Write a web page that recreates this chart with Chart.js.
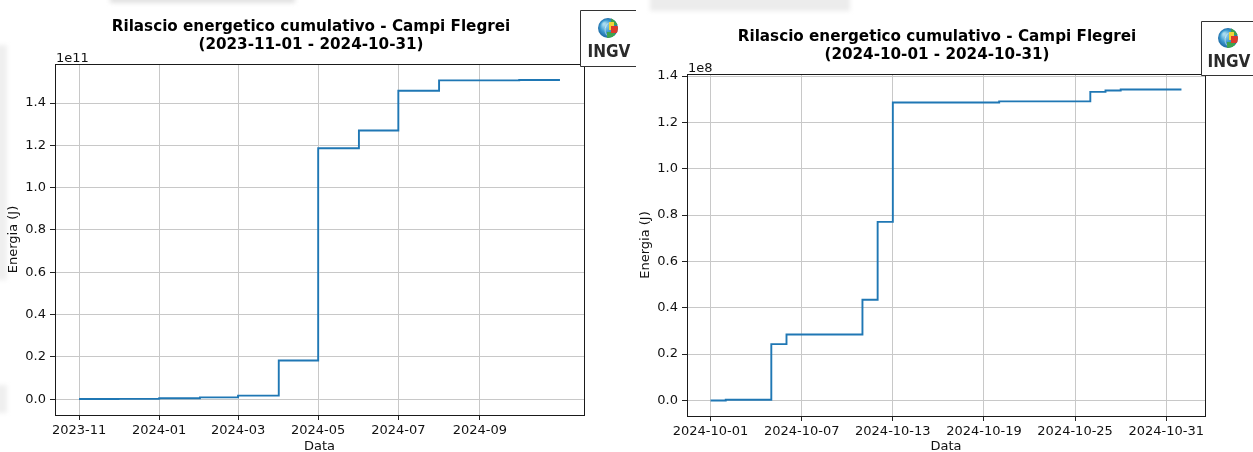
<!DOCTYPE html>
<html>
<head>
<meta charset="utf-8">
<script src="https://cdn.jsdelivr.net/npm/chart.js@4.4.0/dist/chart.umd.min.js"></script>
<style>
  html, body { margin: 0; padding: 0; background: #fff; }
  body { width: 1253px; height: 452px; position: relative; overflow: hidden; }
  canvas { position: absolute; top: 0; }
  #yearChart { left: 0; }
  #monthChart { left: 620px; }
  .smudge { position: absolute; background: #e2e2e2; filter: blur(2px); }
</style>
</head>
<body>
<div class="smudge" style="left:110px;top:-4px;width:185px;height:7px"></div>
<div class="smudge" style="left:650px;top:-4px;width:200px;height:15px;background:#ececec"></div>
<div class="smudge" style="left:-4px;top:45px;width:11px;height:235px;background:#efefef"></div>
<div class="smudge" style="left:-4px;top:385px;width:11px;height:28px;background:#efefef"></div>
<canvas id="yearChart" width="640" height="452"></canvas>
<canvas id="monthChart" width="633" height="452"></canvas>
<script>
  // Campi Flegrei - energia cumulativa
  const yearDates = ['2023-11-01', '2023-12-01', '2024-01-01', '2024-02-01', '2024-03-01', '2024-04-01',
    '2024-05-01', '2024-06-01', '2024-07-01', '2024-08-01', '2024-09-01', '2024-10-01', '2024-10-31T23:59:59Z'];
  const yearEnergy = [0.001e11, 0.002e11, 0.005e11, 0.009e11, 0.017e11, 0.183e11,
    1.186e11, 1.270e11, 1.458e11, 1.507e11, 1.507e11, 1.509e11, 1.509e11];
  const yearXTicks = ['2023-11', '2024-01', '2024-03', '2024-05', '2024-07', '2024-09'];
  const yearYTicks = ['0.0', '0.2', '0.4', '0.6', '0.8', '1.0', '1.2', '1.4'];

  const monthDates = ['2024-10-01', '2024-10-02', '2024-10-05', '2024-10-06', '2024-10-11', '2024-10-12',
    '2024-10-13', '2024-10-20', '2024-10-26', '2024-10-27', '2024-10-28', '2024-10-31T23:59:59Z'];
  const monthEnergy = [0, 0.003e8, 0.243e8, 0.285e8, 0.435e8, 0.771e8,
    1.286e8, 1.291e8, 1.332e8, 1.338e8, 1.342e8, 1.342e8];
  const monthXTicks = ['2024-10-01', '2024-10-07', '2024-10-13', '2024-10-19', '2024-10-25', '2024-10-31'];
  const monthYTicks = ['0.0', '0.2', '0.4', '0.6', '0.8', '1.0', '1.2', '1.4'];

  const FONT = 'DejaVu Sans';

  function drawLogo(ctx, L) {
    ctx.fillStyle = '#fff';
    ctx.fillRect(L.left, L.top, L.right - L.left, L.bottom - L.top);
    ctx.strokeStyle = '#333';
    ctx.lineWidth = 1;
    ctx.beginPath();
    ctx.moveTo(L.right, L.top + 0.5);
    ctx.lineTo(L.left + 0.5, L.top + 0.5);
    ctx.lineTo(L.left + 0.5, L.bottom + 0.5);
    ctx.lineTo(L.right, L.bottom + 0.5);
    ctx.stroke();

    // globo
    const cx = L.gx, cy = L.gy, r = 10;
    const g = ctx.createRadialGradient(cx - 4, cy - 4, 1, cx, cy, r);
    g.addColorStop(0, '#a8dcef');
    g.addColorStop(0.55, '#3c9ad0');
    g.addColorStop(1, '#1d6aa5');
    ctx.fillStyle = g;
    ctx.beginPath();
    ctx.arc(cx, cy, r, 0, Math.PI * 2);
    ctx.fill();
    ctx.save();
    ctx.beginPath();
    ctx.arc(cx, cy, r, 0, Math.PI * 2);
    ctx.clip();
    ctx.fillStyle = '#3fa34d';
    ctx.fillRect(cx + 3, cy - 10, 8, 7);
    ctx.fillRect(cx - 1, cy + 4, 8, 7);
    ctx.fillStyle = '#f1d33a';
    ctx.fillRect(cx + 1, cy - 6, 5, 8);
    ctx.fillStyle = '#dd3a2c';
    ctx.fillRect(cx + 3, cy - 2, 8, 7);
    ctx.strokeStyle = 'rgba(255,255,255,0.5)';
    ctx.beginPath();
    ctx.arc(cx + 6, cy + 2, 9, Math.PI * 0.8, Math.PI * 1.3);
    ctx.stroke();
    ctx.restore();

    ctx.fillStyle = '#2b2b2b';
    ctx.font = 'bold 17px "Liberation Sans Narrow", "DejaVu Sans Condensed", sans-serif';
    ctx.textAlign = 'center';
    ctx.textBaseline = 'alphabetic';
    ctx.fillText('INGV', L.tx, L.ty);
  }

  const decor = {
    id: 'decor',
    afterDraw(chart, args, opts) {
      const ctx = chart.ctx, a = chart.chartArea;
      ctx.save();
      ctx.strokeStyle = '#1a1a1a';
      ctx.lineWidth = 1;
      ctx.strokeRect(Math.round(a.left) + 0.5, Math.round(a.top) + 0.5,
        Math.round(a.right - a.left), Math.round(a.bottom - a.top));

      ctx.fillStyle = '#000';
      ctx.font = 'bold 15.2px "' + FONT + '"';
      ctx.textAlign = 'center';
      ctx.textBaseline = 'alphabetic';
      opts.title.forEach((t, i) => ctx.fillText(t, opts.titleX, opts.titleY + i * 17.5));

      ctx.font = '13px "' + FONT + '"';
      ctx.fillStyle = '#111';
      ctx.textAlign = 'left';
      ctx.fillText(opts.offsetText, a.left + 1, a.top - 2);

      drawLogo(ctx, opts.logo);
      ctx.restore();
    }
  };

  function buildChart(id, o) {
    const xs = o.dates.map(d => Date.parse(d));
    const pts = xs.map((x, i) => ({ x: x, y: o.values[i] }));
    const x0 = Math.min(...xs), x1 = Math.max(...xs), xm = (x1 - x0) * 0.05;
    const y0 = Math.min(...o.values), y1 = Math.max(...o.values), ym = (y1 - y0) * 0.05;
    const xTickVals = o.xTicks.map(t => Date.parse(t.length === 7 ? t + '-01' : t));
    const yTickVals = o.yTicks.map(t => parseFloat(t) * o.scale);

    const tickFont = { family: FONT, size: 13 };
    return new Chart(document.getElementById(id), {
      type: 'line',
      data: {
        datasets: [{
          data: pts,
          borderColor: '#1f77b4',
          borderWidth: 1.9,
          pointRadius: 0,
          stepped: 'before',
          fill: false
        }]
      },
      options: {
        responsive: false,
        animation: false,
        devicePixelRatio: 1,
        layout: { padding: { left: 0, top: o.top, right: o.right, bottom: 0 } },
        plugins: {
          legend: { display: false },
          tooltip: { enabled: false },
          decor: o.decor
        },
        scales: {
          x: {
            type: 'linear',
            min: x0 - xm,
            max: x1 + xm,
            afterBuildTicks: s => { s.ticks = xTickVals.map(v => ({ value: v })); },
            afterFit: s => { s.height = o.xHeight; },
            ticks: {
              autoSkip: false, maxRotation: 0, color: '#111', font: tickFont, padding: 3,
              callback: (v, i) => o.xTicks[i]
            },
            grid: { color: '#c8c8c8', lineWidth: 1, tickColor: '#222', tickLength: 5 },
            border: { display: false },
            title: { display: true, text: 'Data', color: '#111', font: tickFont, padding: { top: 0, bottom: -2 } }
          },
          y: {
            type: 'linear',
            min: y0 - ym,
            max: y1 + ym,
            afterBuildTicks: s => { s.ticks = yTickVals.map(v => ({ value: v })); },
            afterFit: s => { s.width = o.yWidth; },
            ticks: {
              color: '#111', font: tickFont, padding: 4,
              callback: (v, i) => o.yTicks[i]
            },
            grid: { color: '#c8c8c8', lineWidth: 1, tickColor: '#222', tickLength: 5 },
            border: { display: false },
            title: { display: true, text: 'Energia (J)', color: '#111', font: tickFont, padding: { top: o.yTitlePad, bottom: 0 } }
          }
        }
      },
      plugins: [decor]
    });
  }

  buildChart('yearChart', {
    dates: yearDates, values: yearEnergy, xTicks: yearXTicks, yTicks: yearYTicks, scale: 1e11,
    top: 64, right: 56, xHeight: 37, yWidth: 55, yTitlePad: 6,
    decor: {
      title: ['Rilascio energetico cumulativo - Campi Flegrei', '(2023-11-01 - 2024-10-31)'],
      titleX: 311, titleY: 31, offsetText: '1e11',
      logo: { left: 580, top: 10, right: 636, bottom: 66, gx: 608, gy: 28, tx: 609, ty: 57 }
    }
  });

  buildChart('monthChart', {
    dates: monthDates, values: monthEnergy, xTicks: monthXTicks, yTicks: monthYTicks, scale: 1e8,
    top: 74, right: 48, xHeight: 36, yWidth: 67, yTitlePad: 18,
    decor: {
      title: ['Rilascio energetico cumulativo - Campi Flegrei', '(2024-10-01 - 2024-10-31)'],
      titleX: 317, titleY: 41, offsetText: '1e8',
      logo: { left: 581, top: 21, right: 633, bottom: 75, gx: 608, gy: 38, tx: 609, ty: 67 }
    }
  });
</script>
</body>
</html>
